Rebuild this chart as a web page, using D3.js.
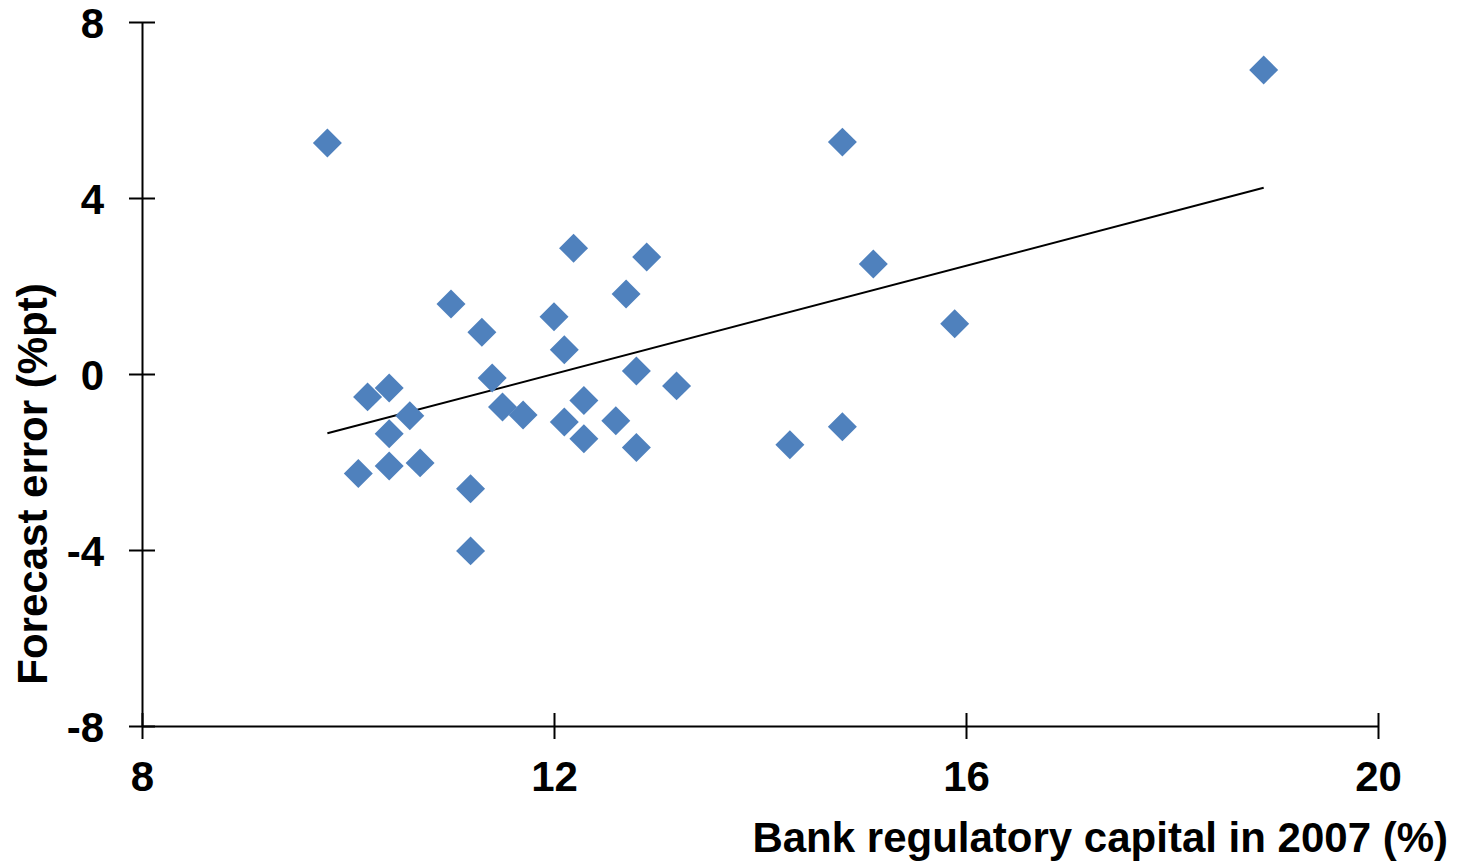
<!DOCTYPE html>
<html>
<head>
<meta charset="utf-8">
<script src="https://cdn.jsdelivr.net/npm/d3@7"></script>
<style>
    body { margin: 0; background: white; }
    text { font-family: "Liberation Sans", Arial, sans-serif; font-weight: bold; fill: black; }
</style>
</head>
<body>
<script>
// bank regulatory capital in 2007 (%)
const capital = [12.19, 12.90, 12.70, 11.00, 12.00, 11.30, 12.10, 12.80, 11.40, 13.19,
    10.19, 10.40, 12.29, 10.60, 11.50, 11.70, 12.10, 12.60, 10.40, 12.29,
    12.80, 10.10, 10.40, 10.70, 11.19, 11.19, 9.80, 14.80, 15.10, 15.89,
    14.80, 14.29, 18.89];
// forecast error (%pt)
const forecastError = [2.86, 2.66, 1.82, 1.59, 1.30, 0.95, 0.55, 0.07, -0.09, -0.27,
    -0.52, -0.32, -0.60, -0.95, -0.75, -0.93, -1.09, -1.06, -1.36, -1.47,
    -1.67, -2.26, -2.09, -2.02, -2.61, -4.02, 5.25, 5.27, 2.50, 1.14,
    -1.20, -1.61, 6.91];
const xTicks = [8, 12, 16, 20];
const yTicks = [-8, -4, 0, 4, 8];

(function () {
    const width = 1458, height = 863;
    const fontSize = 42;

    const svg = d3.select('body')
        .append('svg')
        .attr('width', width)
        .attr('height', height);

    const xScale = d3.scaleLinear().domain([8, 20]).range([142, 1378]);
    const yScale = d3.scaleLinear().domain([-8, 8]).range([726, 22]);

    // axes, ticks crossing the line like the original
    const xAxis = d3.axisBottom(xScale).tickValues(xTicks).tickSizeInner(13).tickSizeOuter(0)
        .tickFormat(d3.format('d'));
    const gx = svg.append('g')
        .attr('transform', 'translate(0,' + yScale(-8) + ')')
        .call(xAxis);

    const yAxis = d3.axisLeft(yScale).tickValues(yTicks).tickSizeInner(13).tickSizeOuter(0)
        .tickFormat((d) => String(d)); // plain hyphen for negatives
    const gy = svg.append('g')
        .attr('transform', 'translate(' + xScale(8) + ',0)')
        .call(yAxis);

    [gx, gy].forEach((g) => {
        g.select('.domain').attr('stroke', 'black').attr('stroke-width', 2);
        g.selectAll('.tick line').attr('stroke', 'black').attr('stroke-width', 2);
        g.selectAll('.tick text')
            .attr('font-size', fontSize)
            .attr('font-family', '"Liberation Sans", Arial, sans-serif')
            .attr('font-weight', 'bold')
            .attr('fill', 'black');
    });
    // inner half of the crossing ticks
    gx.selectAll('.tick').append('line').attr('y2', -13).attr('stroke', 'black').attr('stroke-width', 2);
    gy.selectAll('.tick').append('line').attr('x2', 13).attr('stroke', 'black').attr('stroke-width', 2);
    gx.selectAll('.tick text').attr('dy', 0).attr('y', 65);
    gy.selectAll('.tick text').attr('x', -38).attr('dy', '0.36em');

    // linear trend line from least squares
    const mx = d3.mean(capital), my = d3.mean(forecastError);
    let sxy = 0, sxx = 0;
    capital.forEach((x, i) => {
        sxy += (x - mx) * (forecastError[i] - my);
        sxx += (x - mx) * (x - mx);
    });
    const slope = sxy / sxx;
    const intercept = my - slope * mx;
    const x0 = d3.min(capital), x1 = d3.max(capital);

    svg.append('line')
        .attr('x1', xScale(x0))
        .attr('y1', yScale(intercept + slope * x0))
        .attr('x2', xScale(x1))
        .attr('y2', yScale(intercept + slope * x1))
        .attr('stroke', 'black')
        .attr('stroke-width', 2);

    // diamond markers
    const diamond = d3.symbol().type(d3.symbolSquare).size(420);
    svg.append('g')
        .selectAll('path')
        .data(capital)
        .join('path')
        .attr('d', diamond)
        .attr('transform', (d, i) => 'translate(' + xScale(d) + ',' + yScale(forecastError[i]) + ') rotate(45)')
        .attr('fill', '#4F81BD');

    // axis titles
    svg.append('text')
        .attr('x', 1448)
        .attr('y', 852)
        .attr('text-anchor', 'end')
        .attr('font-size', fontSize)
        .text('Bank regulatory capital in 2007 (%)');

    svg.append('text')
        .attr('transform', 'translate(47,484) rotate(-90)')
        .attr('text-anchor', 'middle')
        .attr('font-size', fontSize)
        .text('Forecast error (%pt)');
})();
</script>
</body>
</html>
